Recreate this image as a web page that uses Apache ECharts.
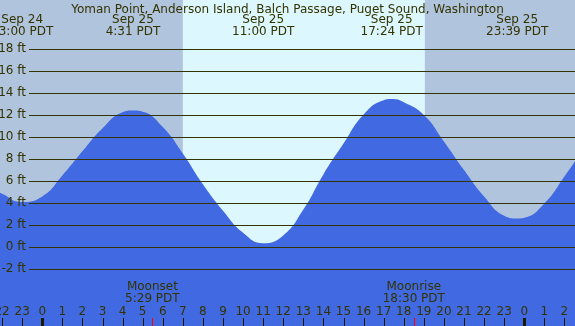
<!DOCTYPE html>
<html>
<head>
<meta charset="utf-8">
<script src="https://cdn.jsdelivr.net/npm/echarts@6/dist/echarts.min.js"></script>
<style>
    html, body { margin: 0; padding: 0; }
    #tide-chart { width: 575px; height: 326px; }
</style>
</head>
<body>
<div id="tide-chart"></div>
<script>
// tide curve, hours from Sep 25 00:00 PDT -> height in ft
const hours = [-3, -2, -1.05, 0, 1, 2, 3, 4, 4.52, 5, 6, 7, 8, 9, 10, 11, 12, 13, 14, 15, 16, 17, 17.4, 18, 19, 20, 21, 22, 23, 23.65, 24, 25, 26, 27];
const heights = [5.7, 4.85, 4.1, 4.6, 6.5, 8.7, 10.8, 12.25, 12.4, 12.3, 10.9, 8.5, 5.7, 3.3, 1.3, 0.35, 1.05, 3.4, 6.6, 9.4, 12.05, 13.35, 13.45, 13.15, 12.0, 9.6, 7.0, 4.6, 2.85, 2.6, 2.66, 3.95, 6.4, 9.1];

// high / low tide labels
const tideTimes = [-1.0, 4.517, 11.0, 17.4, 23.65];
const tideDates = ['Sep 24', 'Sep 25', 'Sep 25', 'Sep 25', 'Sep 25'];
const tideClock = ['23:00 PDT', '4:31 PDT', '11:00 PDT', '17:24 PDT', '23:39 PDT'];

// moon events
const moonTimes = [5.483, 18.5];
const moonNames = ['Moonset', 'Moonrise'];
const moonClock = ['5:29 PDT', '18:30 PDT'];

// daylight
const sunrise = 7.0;
const sunset = 19.05;

// hour ticks along the bottom (0 and 24 are midnight)
const hourTicks = [-2, -1, 0, 1, 2, 3, 4, 5, 6, 7, 8, 9, 10, 11, 12, 13, 14, 15, 16, 17, 18, 19, 20, 21, 22, 23, 24, 25, 26];
const hourLabels = ['22', '23', '0', '1', '2', '3', '4', '5', '6', '7', '8', '9', '10', '11', '12', '13', '14', '15', '16', '17', '18', '19', '20', '21', '22', '23', '0', '1', '2'];

const txt = '#333300';
const font = '12px "DejaVu Sans"';

const myChart = echarts.init(document.getElementById('tide-chart'));

myChart.setOption({
    animation: false,
    backgroundColor: '#b0c4de',
    title: {
        text: 'Yoman Point, Anderson Island, Balch Passage, Puget Sound, Washington',
        left: 'center',
        top: -1,
        textStyle: { fontSize: 12, fontWeight: 'normal', color: txt, fontFamily: 'DejaVu Sans' }
    },
    grid: [
        // 时间轴 -3 ~ 27 小时，两端伸出画布
        { left: -18, right: -9.5, top: 0, bottom: 0, outerBoundsMode: 'none' },
        { left: 29, right: 0, top: 49, bottom: 57, outerBoundsMode: 'none' }
    ],
    xAxis: [
        { type: 'value', gridIndex: 0, min: -3, max: 27, interval: 1, show: false },
        { type: 'value', gridIndex: 1, min: 0, max: 1, show: false }
    ],
    yAxis: [
        { type: 'value', gridIndex: 0, min: -7.1818, max: 22.4545, show: false },
        {
            type: 'value', gridIndex: 1, min: -2, max: 18, interval: 2, z: 10,
            axisLine: { show: false },
            axisTick: { show: false },
            axisLabel: { margin: 3, color: txt, fontSize: 12, fontFamily: 'DejaVu Sans', formatter: '{value} ft' },
            splitLine: { lineStyle: { color: txt, width: 1 } }
        }
    ],
    series: [
        {
            // 白天背景
            type: 'line', xAxisIndex: 0, yAxisIndex: 0, data: [], z: 1,
            markArea: {
                silent: true,
                itemStyle: { color: '#ddf7ff' },
                data: [[{ xAxis: sunrise }, { xAxis: sunset }]]
            }
        },
        {
            // 潮汐曲线
            type: 'line', xAxisIndex: 0, yAxisIndex: 0, z: 2,
            smooth: true,
            symbol: 'none',
            lineStyle: { width: 0 },
            areaStyle: { color: '#4169e1', opacity: 1, origin: 'start' },
            data: hours.map((h, i) => [h, heights[i]])
        },
        {
            // 高低潮标签
            type: 'custom', xAxisIndex: 0, yAxisIndex: 0, z: 5, silent: true,
            data: tideTimes.map((t, i) => [t, i]),
            renderItem: (params, api) => {
                const x = api.coord([api.value(0), 0])[0];
                const i = api.value(1);
                return {
                    type: 'group',
                    children: [
                        { type: 'text', style: { text: tideDates[i], x: x, y: 20, align: 'center', verticalAlign: 'middle', font: font, fill: txt } },
                        { type: 'text', style: { text: tideClock[i], x: x, y: 32, align: 'center', verticalAlign: 'middle', font: font, fill: txt } }
                    ]
                };
            }
        },
        {
            // 月出月落
            type: 'custom', xAxisIndex: 0, yAxisIndex: 0, z: 5, silent: true,
            data: moonTimes.map((t, i) => [t, i]),
            renderItem: (params, api) => {
                const x = api.coord([api.value(0), 0])[0];
                const i = api.value(1);
                return {
                    type: 'group',
                    children: [
                        { type: 'text', style: { text: moonNames[i], x: x, y: 287, align: 'center', verticalAlign: 'middle', font: font, fill: txt } },
                        { type: 'text', style: { text: moonClock[i], x: x, y: 299, align: 'center', verticalAlign: 'middle', font: font, fill: txt } },
                        { type: 'rect', shape: { x: Math.round(x), y: 318, width: 1, height: 8 }, style: { fill: '#ff0000' } }
                    ]
                };
            }
        },
        {
            // 小时刻度与标签，午夜加粗
            type: 'custom', xAxisIndex: 0, yAxisIndex: 0, z: 6, silent: true,
            data: hourTicks.map((t, i) => [t, i]),
            renderItem: (params, api) => {
                const h = api.value(0);
                const i = api.value(1);
                const x = api.coord([h, 0])[0];
                const midnight = hourLabels[i] === '0';
                return {
                    type: 'group',
                    children: [
                        { type: 'text', style: { text: hourLabels[i], x: x, y: 312, align: 'center', verticalAlign: 'middle', font: font, fill: txt } },
                        midnight
                            ? { type: 'rect', shape: { x: Math.round(x) - 1, y: 318, width: 3, height: 8 }, style: { fill: '#1a1a00' } }
                            : { type: 'rect', shape: { x: Math.round(x), y: 318, width: 1, height: 8 }, style: { fill: '#1a1a00' } }
                    ]
                };
            }
        }
    ]
});
</script>
</body>
</html>
